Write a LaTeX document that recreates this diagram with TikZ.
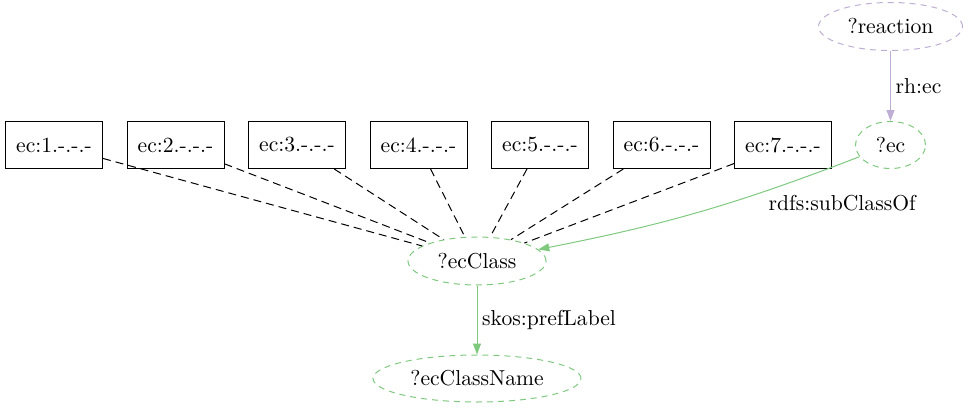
\documentclass[tikz,border=0pt]{standalone}
\usepackage{xcolor}
\usepackage{tikz}
\usetikzlibrary{shapes.geometric, arrows.meta, positioning}

\definecolor{accgreen}{HTML}{7FC97F}
\definecolor{accpurple}{HTML}{BEAED4}

\begin{document}
\begin{tikzpicture}[
  x=0.5pt, y=-0.5pt,
  node distance=11.75pt and 11.75pt,
  every node/.style={font=\fontsize{10.8}{12}\selectfont},
  ecbox/.style={rectangle, draw=black, line width=0.5pt,
             minimum width=48.5pt, minimum height=23.5pt, inner sep=0pt},
  varnode/.style={ellipse, dash pattern=on 3pt off 2.5pt, line width=0.5pt,
             minimum height=23.5pt, inner sep=0pt},
  greenvar/.style={varnode, draw=accgreen},
  purplevar/.style={varnode, draw=accpurple},
  arrow/.style={-{Triangle[length=5.5pt, width=4pt]}, line width=0.5pt},
  classline/.style={line width=0.5pt, dash pattern=on 4pt off 2.5pt}
]

\useasboundingbox (0,0) rectangle (969,407);

\node[ecbox] (ec1) at (54,145) {ec:1.-.-.-};
\node[ecbox, right=of ec1] (ec2) {ec:2.-.-.-};
\node[ecbox, right=of ec2] (ec3) {ec:3.-.-.-};
\node[ecbox, right=of ec3] (ec4) {ec:4.-.-.-};
\node[ecbox, right=of ec4] (ec5) {ec:5.-.-.-};
\node[ecbox, right=of ec5] (ec6) {ec:6.-.-.-};
\node[ecbox, right=of ec6] (ec7) {ec:7.-.-.-};
\node[greenvar, minimum width=35pt, right=11.5pt of ec7] (ec) {?ec};
\node[purplevar, minimum width=72pt, minimum height=24pt, above=35pt of ec] (reaction) {?reaction};
\node[greenvar, minimum width=69pt, minimum height=24pt] (ecclass) at (477,261) {?ecClass};
\node[greenvar, minimum width=104pt, below=34.5pt of ecclass] (ecclassname) {?ecClassName};

\draw[classline] (ec1) -- (ecclass);
\draw[classline] (ec2) -- (ecclass);
\draw[classline] (ec3) -- (ecclass);
\draw[classline] (ec4) -- (ecclass);
\draw[classline] (ec5) -- (ecclass);
\draw[classline] (ec6) -- (ecclass);
\draw[classline] (ec7) -- (ecclass);

\draw[arrow, color=accpurple] (reaction) -- node[right=-1pt, text=black] {rh:ec} (ec);
\draw[arrow, color=accgreen] (ec) to[bend left=5] node[pos=0.2, anchor=north west, xshift=-15pt, yshift=-3pt, text=black] {rdfs:subClassOf} (ecclass);
\draw[arrow, color=accgreen] (ecclass) -- node[right=-1pt, text=black] {skos:prefLabel} (ecclassname);

\end{tikzpicture}
\end{document}
